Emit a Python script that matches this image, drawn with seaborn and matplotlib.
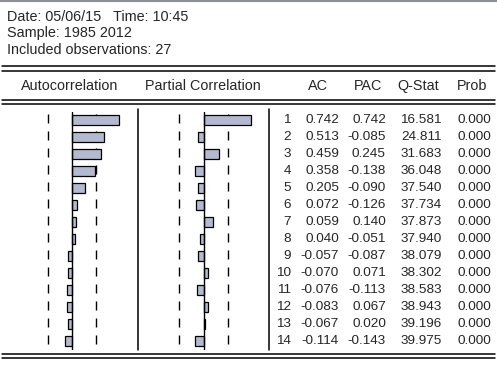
import numpy as np
import pandas as pd
import matplotlib
matplotlib.use('Agg')
import matplotlib.pyplot as plt
import seaborn as sns

# correlogram values
lags = list(range(1, 15))
ac = [0.742, 0.513, 0.459, 0.358, 0.205, 0.072, 0.059, 0.040, -0.057, -0.070, -0.076, -0.083, -0.067, -0.114]
pac = [0.742, -0.085, 0.245, -0.138, -0.090, -0.126, 0.140, -0.051, -0.087, 0.071, -0.113, 0.067, 0.020, -0.143]
qstat = [16.581, 24.811, 31.683, 36.048, 37.540, 37.734, 37.873, 37.940, 38.079, 38.302, 38.583, 38.943, 39.196, 39.975]
prob = [0.000] * 14
n_obs = 27
header_lines = ['Date: 05/06/15   Time: 10:45', 'Sample: 1985 2012', 'Included observations: 27']

df = pd.DataFrame({'lag': lags, 'AC': ac, 'PAC': pac})
bound = 2 / np.sqrt(n_obs)

sns.set_style('white')
plt.rcParams['font.family'] = ['Liberation Sans', 'DejaVu Sans']

W, H = 497, 368
fig = plt.figure(figsize=(W / 100, H / 100), dpi=100)
base = fig.add_axes([0, 0, 1, 1])
base.set_xlim(0, W)
base.set_ylim(H, 0)
base.axis('off')

fs_head = 10.4
fs = 9.7
# top border
base.plot([0, W], [0.5, 0.5], color='#8a8f99', lw=1.5)
for i, t in enumerate(header_lines):
    base.text(7, 17 + i * 16.5, t, fontsize=fs_head, va='center', ha='left')

# double rules
for y in [66, 70.5, 100, 104, 354, 358]:
    base.plot([2, 495], [y, y], color='black', lw=1.1)

base.text(70, 86, 'Autocorrelation', fontsize=fs_head, ha='center', va='center')
base.text(203, 86, 'Partial Correlation', fontsize=fs_head, ha='center', va='center')
for x, t in zip([318, 368, 418, 472], ['AC', 'PAC', 'Q-Stat', 'Prob']):
    base.text(x, 86, t, fontsize=fs_head, ha='center', va='center')

# separators
for x in [137.5, 268.5]:
    base.plot([x, x], [109, 350], color='black', lw=1.1)

# table
row0, step = 120, 17
for i in range(len(lags)):
    y = row0 + i * step
    base.text(291, y, str(lags[i]), fontsize=fs, ha='right', va='center')
    base.text(339, y, f'{ac[i]:.3f}', fontsize=fs, ha='right', va='center')
    base.text(386, y, f'{pac[i]:.3f}', fontsize=fs, ha='right', va='center')
    base.text(442, y, f'{qstat[i]:.3f}', fontsize=fs, ha='right', va='center')
    base.text(491, y, f'{prob[i]:.3f}', fontsize=fs, ha='right', va='center')

# bar panels
scale = 63.3
top = row0 - step / 2
bot = row0 + (len(lags) - 0.5) * step
bar_color = '#b3b9d1'
for col, zero_x in [('AC', 72), ('PAC', 203.7)]:
    left = zero_x - scale
    ax = fig.add_axes([left / W, 1 - bot / H, 2 * scale / W, (bot - top) / H])
    # dashed confidence bounds sit under the bars
    for i in range(len(lags)):
        ax.vlines([-bound, bound], i - 0.38, i + 0.15, color='black', lw=1.0, zorder=1)
    sns.barplot(data=df, x=col, y='lag', orient='h', order=lags, color=bar_color,
                edgecolor='black', linewidth=0.9, width=0.62, saturation=1, ax=ax,
                zorder=3)
    ax.set_xlim(-1, 1)
    ax.set_ylim(len(lags) - 0.5, -0.5)
    ax.axvline(0, color='black', lw=1.0, zorder=4)
    ax.axis('off')
    ax.patch.set_alpha(0)

fig.savefig('out.png', dpi=100)
